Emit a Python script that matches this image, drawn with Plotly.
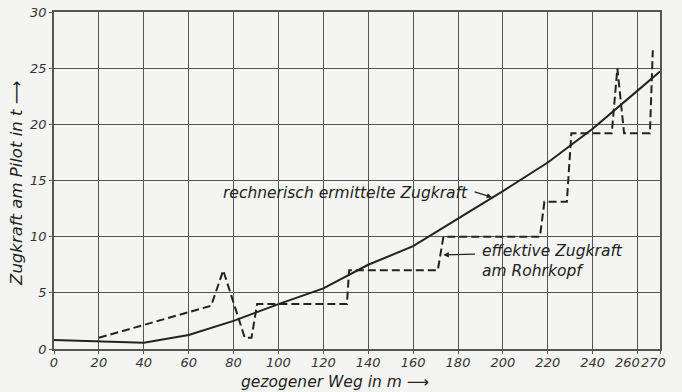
import plotly.graph_objects as go

# Data
weg_rechn = [0, 20, 40, 60, 80, 100, 120, 140, 160, 180, 200, 220, 240, 260, 270]
zug_rechn = [0.8, 0.7, 0.55, 1.25, 2.5, 4.0, 5.4, 7.5, 9.15, 11.6, 14.05, 16.6, 19.6, 23.0, 24.7]

weg_eff = [20, 70, 75.4, 85, 88, 90.5, 130.5, 131.5, 171, 173.5, 216.5, 218.5, 228.5, 230.5,
           248.5, 251, 254, 265.5, 266.8]
zug_eff = [1.0, 3.85, 7.0, 1.0, 1.0, 4.0, 4.0, 7.0, 7.0, 10.0, 10.0, 13.1, 13.1, 19.2,
           19.2, 25.0, 19.2, 19.2, 26.6]

x_ticks = [0, 20, 40, 60, 80, 100, 120, 140, 160, 180, 200, 220, 240, 260, 270]
y_ticks = [0, 5, 10, 15, 20, 25, 30]
# the two crowded labels at the right end are printed slightly left of their grid lines
crowded_labels = {260: 255.5, 270: 267.0}

ink = "#222222"
grid = "#555555"
bg = "#f4f4f2"
font_family = "DejaVu Sans, Liberation Sans, sans-serif"

fig = go.Figure()
fig.add_trace(go.Scatter(x=weg_rechn, y=zug_rechn, mode="lines",
                         line=dict(color=ink, width=2), showlegend=False))
fig.add_trace(go.Scatter(x=weg_eff, y=zug_eff, mode="lines",
                         line=dict(color=ink, width=2, dash="8px,4px"), showlegend=False))

tickfont = dict(family=font_family, size=13, color="#333333", style="italic")

fig.update_xaxes(range=[0, 270], tickvals=x_ticks,
                 ticktext=["" if v in crowded_labels else str(v) for v in x_ticks],
                 tickangle=0, automargin=False, ticklabelstandoff=-2,
                 showgrid=True, gridcolor=grid, gridwidth=1,
                 showline=True, linecolor=grid, linewidth=1.5, mirror=True,
                 ticks="outside", ticklen=3, tickcolor=grid,
                 zeroline=False, tickfont=tickfont)
fig.update_yaxes(range=[0, 30], tickvals=y_ticks, ticktext=[str(v) for v in y_ticks],
                 automargin=False,
                 showgrid=True, gridcolor=grid, gridwidth=1,
                 showline=True, linecolor=grid, linewidth=1.5, mirror=True,
                 ticks="outside", ticklen=3, tickcolor=grid,
                 zeroline=False, tickfont=tickfont)

afont = dict(family=font_family, size=15.5, color=ink, style="italic")
tfont = dict(family=font_family, size=15.5, color=ink, style="italic")

annotations = [
    dict(text="rechnerisch ermittelte Zugkraft", x=185.4, y=13.9, xref="x", yref="y",
         xanchor="right", yanchor="middle", showarrow=False, font=afont),
    dict(text="", x=195.2, y=13.5, xref="x", yref="y", ax=-19, ay=-6,
         showarrow=True, arrowhead=2, arrowsize=0.9, arrowwidth=1.2, arrowcolor=ink),
    dict(text="effektive Zugkraft<br>am Rohrkopf", x=189.8, y=7.8, xref="x", yref="y",
         xanchor="left", yanchor="middle", align="left", showarrow=False, font=afont),
    dict(text="", x=173.5, y=8.37, xref="x", yref="y", ax=33, ay=-1,
         showarrow=True, arrowhead=2, arrowsize=0.9, arrowwidth=1.2, arrowcolor=ink),
    dict(text="gezogener Weg in m ⟶", x=0.464, y=-0.097, xref="paper", yref="paper",
         xanchor="center", yanchor="middle", showarrow=False, font=tfont),
    dict(text="Zugkraft am Pilot in t ⟶", x=-0.061, y=0.49, xref="paper", yref="paper",
         xanchor="center", yanchor="middle", textangle=-90, showarrow=False,
         font=dict(tfont, size=16.5)),
]
for val, pos in crowded_labels.items():
    annotations.append(dict(text=str(val), x=pos, y=0, xref="x", yref="paper",
                            yshift=-13, xanchor="center", yanchor="middle",
                            showarrow=False, font=tickfont))

fig.update_layout(width=682, height=392,
                  margin=dict(l=54, r=22, t=12, b=43),
                  paper_bgcolor=bg, plot_bgcolor=bg,
                  annotations=annotations, showlegend=False)

fig.write_html("out.html", config={"displayModeBar": False},
               post_script="document.body.style.margin='0';"
                           "document.body.style.background='#f4f4f2';")
